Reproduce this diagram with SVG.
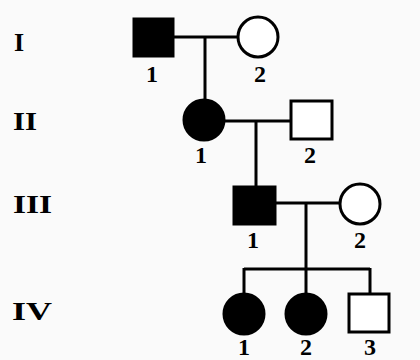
<svg xmlns="http://www.w3.org/2000/svg" width="420" height="360" viewBox="0 0 420 360">
<style>
.ln{stroke:#000;stroke-width:3;fill:none}
.aff{fill:#000;stroke:#000;stroke-width:3}
.un{fill:#fff;stroke:#000;stroke-width:3}
text{font-family:"Liberation Serif","Times New Roman",serif;font-weight:bold;font-size:24px;fill:#000}
.gen{font-size:26px}
.num{text-anchor:middle}
</style>
<rect width="420" height="360" fill="#fafafa"/>
<g id="generations">
<text class="gen" x="14" y="51">I</text>
<text class="gen" x="13" y="130" textLength="24" lengthAdjust="spacingAndGlyphs">II</text>
<text class="gen" x="13" y="213" textLength="39" lengthAdjust="spacingAndGlyphs">III</text>
<text class="gen" x="12" y="320" textLength="40" lengthAdjust="spacingAndGlyphs">IV</text>
</g>
<g id="connectors">
<line class="ln" x1="174" y1="37" x2="237" y2="37"/>
<line class="ln" x1="205" y1="37" x2="205" y2="99"/>
<line class="ln" x1="225" y1="121" x2="290" y2="121"/>
<line class="ln" x1="256" y1="121" x2="256" y2="186"/>
<line class="ln" x1="276" y1="203" x2="339" y2="203"/>
<line class="ln" x1="306" y1="203" x2="306" y2="269"/>
<line class="ln" x1="244" y1="269" x2="370" y2="269"/>
<line class="ln" x1="244" y1="268" x2="244" y2="294"/>
<line class="ln" x1="306" y1="268" x2="306" y2="294"/>
<line class="ln" x1="370" y1="268" x2="370" y2="294"/>
</g>
<g id="I-1"><rect class="aff" x="134" y="19" width="39" height="37"/><text class="num" x="152" y="82">1</text></g>
<g id="I-2"><circle class="un" cx="258" cy="37" r="20"/><text class="num" x="260" y="82">2</text></g>
<g id="II-1"><circle class="aff" cx="204" cy="120" r="20"/><text class="num" x="201" y="163">1</text></g>
<g id="II-2"><rect class="un" x="291" y="101" width="41" height="38"/><text class="num" x="310" y="163">2</text></g>
<g id="III-1"><rect class="aff" x="234" y="187" width="41" height="37"/><text class="num" x="253" y="248">1</text></g>
<g id="III-2"><circle class="un" cx="360" cy="204" r="20"/><text class="num" x="360" y="248">2</text></g>
<g id="IV-1"><circle class="aff" cx="244" cy="314" r="20"/><text class="num" x="244" y="355">1</text></g>
<g id="IV-2"><circle class="aff" cx="306" cy="314" r="20"/><text class="num" x="306" y="355">2</text></g>
<g id="IV-3"><rect class="un" x="349" y="294" width="40" height="38"/><text class="num" x="370" y="355">3</text></g>
</svg>
